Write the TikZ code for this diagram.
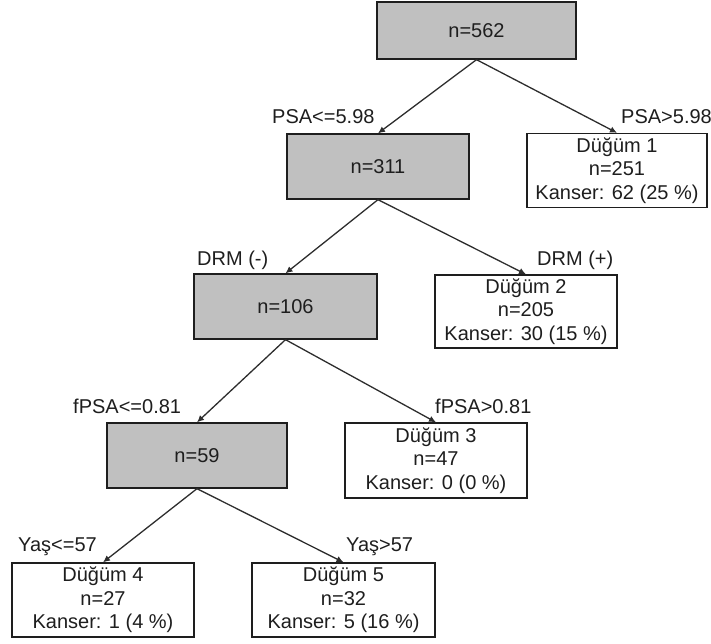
\documentclass[tikz,border=0pt]{standalone}
\usepackage{fontspec}
\setmainfont{Liberation Sans}
\usetikzlibrary{arrows.meta}
\definecolor{boxgray}{RGB}{192,192,192}
\definecolor{ink}{RGB}{30,30,30}
\definecolor{edge}{RGB}{45,45,45}
\tikzset{
  base/.style={draw=ink, line width=1.3pt, inner sep=0pt, text=ink, align=center,
    font=\fontsize{20}{23.5}\selectfont},
  graybox/.style={base, fill=boxgray},
  leafbox/.style={base, fill=white},
  lbl/.style={anchor=base west, inner sep=0pt, text=ink, font=\fontsize{20}{23.5}\selectfont},
  conn/.style={draw=edge, line width=1.3pt, -{Latex[length=7pt,width=6.5pt]}}
}
\begin{document}
\begin{tikzpicture}[x=1pt,y=-1pt]
\useasboundingbox (0,0) rectangle (711,644);
% nodes
\node[graybox, minimum width=199pt, minimum height=57pt] (root) at (476.5,30.5) {n=562};
\node[graybox, minimum width=182pt, minimum height=65pt] (n311) at (378,166.5) {n=311};
\node[leafbox, minimum width=180pt, minimum height=74pt] (d1) at (617,170.5) {Düğüm 1\\n=251\\Kanser: 62 (25 \%)};
\node[graybox, minimum width=183pt, minimum height=65pt] (n106) at (285.5,306.5) {n=106};
\node[leafbox, minimum width=182pt, minimum height=73pt] (d2) at (526,311.5) {Düğüm 2\\n=205\\Kanser: 30 (15 \%)};
\node[graybox, minimum width=180pt, minimum height=65pt] (n59) at (197,455.5) {n=59};
\node[leafbox, minimum width=182pt, minimum height=75pt] (d3) at (436,460.5) {Düğüm 3\\n=47\\Kanser: 0 (0 \%)};
\node[leafbox, minimum width=182pt, minimum height=74pt] (d4) at (103,600) {Düğüm 4\\n=27\\Kanser: 1 (4 \%)};
\node[leafbox, minimum width=183pt, minimum height=74pt] (d5) at (343.5,600) {Düğüm 5\\n=32\\Kanser: 5 (16 \%)};
% labels
\node[lbl] (l1) at (272,124) {PSA<=5.98};
\node[lbl] (l2) at (621,124) {PSA>5.98};
\node[lbl] (l3) at (197,265) {DRM (-)};
\node[lbl] (l4) at (537,265) {DRM (+)};
\node[lbl] (l5) at (73,413) {fPSA<=0.81};
\node[lbl] (l6) at (435,413) {fPSA>0.81};
\node[lbl] (l7) at (18,551) {Yaş<=57};
\node[lbl] (l8) at (346,551) {Yaş>57};
% connectors
\draw[conn] (root.south) -- (n311.north);
\draw[conn] (root.south) -- (d1.north);
\draw[conn] (n311.south) -- (n106.north);
\draw[conn] (n311.south) -- (d2.north);
\draw[conn] (n106.south) -- (n59.north);
\draw[conn] (n106.south) -- (d3.north);
\draw[conn] (n59.south) -- (d4.north);
\draw[conn] (n59.south) -- (d5.north);
\end{tikzpicture}
\end{document}
